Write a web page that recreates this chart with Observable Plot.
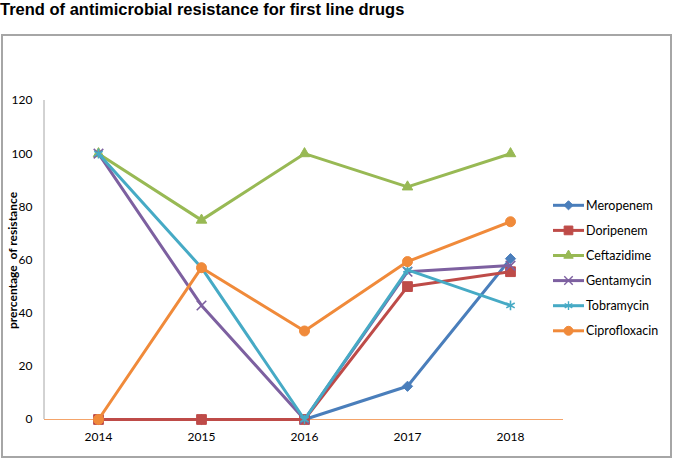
<!DOCTYPE html>
<html><head><meta charset="utf-8">
<script src="https://cdn.jsdelivr.net/npm/d3@7"></script>
<script src="https://cdn.jsdelivr.net/npm/@observablehq/plot@0.6"></script>
<style>
body{margin:0;background:#fff;}
#wrap{position:relative;width:673px;height:459px;overflow:hidden;background:#fff;}
#title{position:absolute;left:0;top:0px;font:bold 16.5px "Liberation Sans",Arial,sans-serif;color:#000;white-space:nowrap;z-index:2;}
#frame{position:absolute;left:1px;top:34px;width:671px;height:424px;border:2px solid #a6a6a6;box-sizing:border-box;}
#chart{position:absolute;left:0;top:0;}
</style></head>
<body>
<div id="wrap">
  <div id="frame"></div>
  <div id="chart"></div>
  <div id="title">Trend of antimicrobial resistance for first line drugs</div>
</div>
<script>
const years = ["2014", "2015", "2016", "2017", "2018"];
const seriesNames = ["Meropenem", "Doripenem", "Ceftazidime", "Gentamycin", "Tobramycin", "Ciprofloxacin"];
const meropenem = [0, 0, 0, 12.5, 60.5];
const doripenem = [0, 0, 0, 50, 55.6];
const ceftazidime = [100, 75, 100, 87.5, 100];
const gentamycin = [100, 42.9, 0, 55.6, 57.9];
const tobramycin = [100, 57.1, 0, 56.3, 42.9];
const ciprofloxacin = [0, 57.1, 33.3, 59.4, 74.4];
const yTicks = [0, 20, 40, 60, 80, 100, 120];
const title = "Trend of antimicrobial resistance for first line drugs";
const yLabel = "prercentage  of resistance";

const values = [meropenem, doripenem, ceftazidime, gentamycin, tobramycin, ciprofloxacin];
const colors = ["#4A7EBB", "#BE4B48", "#98B954", "#7D60A0", "#46AAC5", "#F08A3A"];
const symbols = ["diamond2", "square", "triangle", "times", "asterisk", "circle"];
const radii = [4.6, 5.5, 3.9, 4.4, 4.6, 5];
const filled = [true, true, true, false, false, true];

const series = seriesNames.map((name, k) => ({
  name, color: colors[k], symbol: symbols[k], r: radii[k], filled: filled[k],
  rows: years.map((year, i) => ({year, value: values[k][i], series: name}))
}));

const marks = [
  Plot.ruleY([0], {stroke: "#F4A46A", strokeWidth: 1.2}),
  Plot.axisX({tickSize: 0, tickPadding: 13, label: null, fontSize: 12}),
  Plot.axisY({ticks: yTicks, tickSize: 0, tickPadding: 12, label: null, fontSize: 12})
];
for (const s of series) {
  marks.push(Plot.line(s.rows, {x: "year", y: "value", stroke: s.color, strokeWidth: 3}));
  marks.push(Plot.dot(s.rows, {
    x: "year", y: "value", r: s.r, symbol: () => s.symbol,
    fill: s.filled ? s.color : "none", stroke: s.color, strokeWidth: s.filled ? 1 : 1.6
  }));
}

const plot = Plot.plot({
  width: 673, height: 459,
  marginLeft: 44, marginRight: 110, marginTop: 100, marginBottom: 40,
  style: {fontFamily: "Lato, sans-serif", fontSize: "12px", color: "#000", background: "transparent", overflow: "visible"},
  x: {type: "point", domain: years, padding: 0.5},
  y: {domain: [0, 120]},
  symbol: {type: "identity"},
  marks
});
document.getElementById("chart").appendChild(plot);

const svg = d3.select(plot);
const xs = plot.scale("x"), ys = plot.scale("y");
const x0 = xs.range[0];
// y axis line
svg.append("line").attr("x1", x0).attr("x2", x0).attr("y1", ys.apply(120)).attr("y2", ys.apply(0))
  .attr("stroke", "#a6a6a6").attr("stroke-width", 1);
// y label
const yMid = (ys.apply(0) + ys.apply(120)) / 2 + 1;
svg.append("text").attr("transform", `translate(17,${yMid}) rotate(-90)`)
  .attr("text-anchor", "middle").attr("xml:space", "preserve")
  .style("font", "bold 12px Lato, sans-serif").attr("fill", "#000").text(yLabel);

// legend
const symMap = {diamond2: d3.symbolDiamond2, square: d3.symbolSquare, triangle: d3.symbolTriangle,
  times: d3.symbolTimes, asterisk: d3.symbolAsterisk, circle: d3.symbolCircle};
const lg = svg.append("g").attr("text-anchor", "start");
series.forEach((s, i) => {
  const y = 205.3 + 25.1 * i;
  const g = lg.append("g").attr("transform", `translate(0,${y})`);
  g.append("line").attr("x1", 553).attr("x2", 584).attr("stroke", s.color).attr("stroke-width", 3);
  g.append("path").attr("transform", "translate(568.5,0)")
    .attr("d", d3.symbol(symMap[s.symbol], Math.PI * s.r * s.r * 0.8)())
    .attr("fill", s.filled ? s.color : "none").attr("stroke", s.color).attr("stroke-width", s.filled ? 1 : 1.4);
  g.append("text").attr("x", 586).attr("dy", "0.35em").attr("text-anchor", "start")
    .style("font", "12.5px Lato, sans-serif").attr("fill", "#000").text(s.name);
});
</script>
</body></html>
